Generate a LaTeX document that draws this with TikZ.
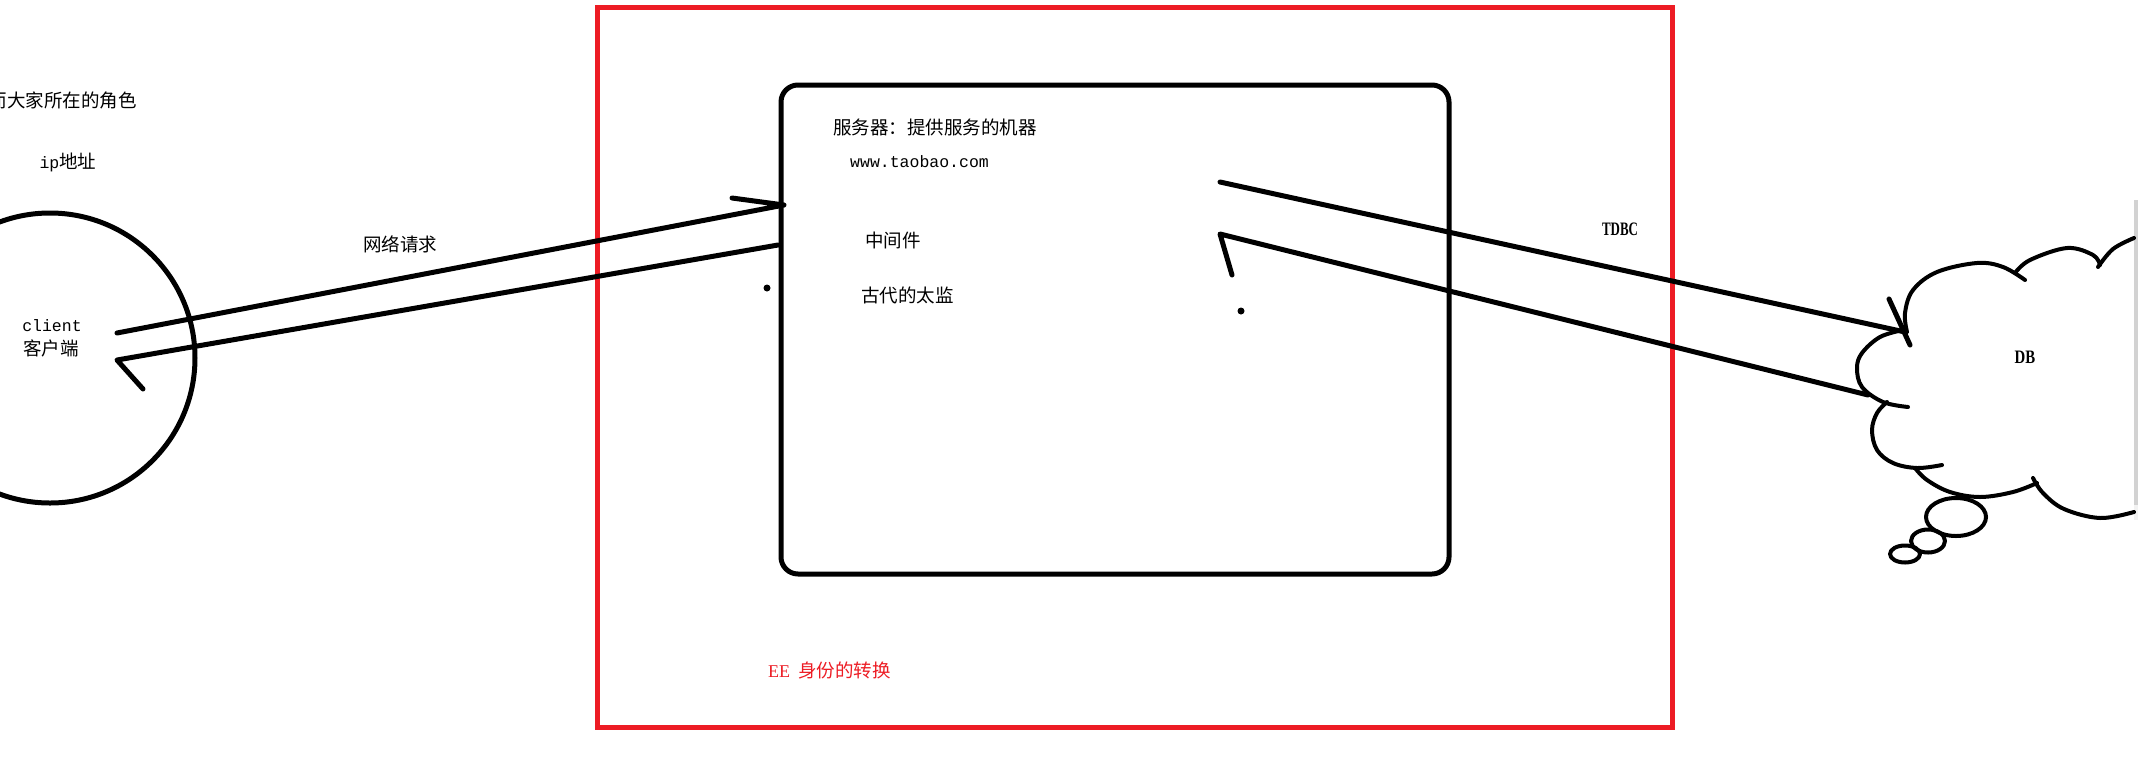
\documentclass[tikz,border=0pt]{standalone}
\usepackage{fontspec}
\setmainfont{Liberation Serif}
\newfontfamily\cjk{Noto Sans CJK SC}
\newfontfamily\mono{Liberation Mono}
\definecolor{pred}{HTML}{ED1C24}
\begin{document}
\begin{tikzpicture}[x=1pt,y=-1pt,line cap=round,line join=round,
  heavy/.style={line width=5pt,draw=black},
  cloudline/.style={line width=4pt,draw=black},
  cjktxt/.style={font=\cjk\fontsize{18.5}{20}\selectfont,inner sep=0pt},
  monotxt/.style={font=\mono\fontsize{16.5}{18}\selectfont,inner sep=0pt},
  sertxt/.style={font=\bfseries\fontsize{19}{21}\selectfont,inner sep=0pt}]
\useasboundingbox (0,0) rectangle (2138,769);
\clip (0,0) rectangle (2138,769);
\fill[white] (0,0) rectangle (2138,769);

% right edge strip
\fill[gray!35] (2134,200) rectangle (2138,505);
\fill[gray!10] (2134,505) rectangle (2138,520);

% red frame
\node[draw=pred,line width=5pt,minimum width=1075pt,minimum height=720pt,inner sep=0pt,line join=miter] (ee) at (1134.5,367) {};
\node[cjktxt,text=pred,anchor=west] (eetext) at (768,670) {{\rmfamily\fontsize{18}{20}\selectfont EE}\hspace{8pt}身份的转换};

% server box
\node[draw,line width=5pt,rounded corners=17pt,minimum width=668pt,minimum height=489pt,inner sep=0pt] (server) at (1115,329.5) {};
\node[cjktxt,anchor=west] (t1) at (833,127) {服务器：提供服务的机器};
\node[monotxt,anchor=west] (t2) at (850,162) {www.taobao.com};
\node[cjktxt,anchor=west] (t3) at (865,240) {中间件};
\node[cjktxt,anchor=west] (t4) at (861,295) {古代的太监};

% client
\node[draw,line width=5pt,circle,minimum size=290pt,inner sep=0pt] (client) at (50,358) {};
\node[monotxt] (c1) at (52,326) {client};
\node[cjktxt] (c2) at (51,348) {客户端};
\node[cjktxt,anchor=east] (role) at (137,100) {而大家所在的角色};
\node[cjktxt] (ip) at (68,162) {{\mono\fontsize{16.5}{18}\selectfont ip}地址};
\node[cjktxt] (net) at (400,244) {网络请求};

% left connectors
\coordinate (a1s) at (117,333);
\coordinate (a1e) at (784,205);
\coordinate (a1h) at (732,198);
\coordinate (a2s) at (778,245);
\coordinate (a2e) at (117,360);
\coordinate (a2h) at (143,389);
\draw[heavy] (a1s) -- (a1e) -- (a1h);
\draw[heavy] (a2s) -- (a2e) -- (a2h);
\fill (767,288) circle (3.5pt);

% right connectors
\coordinate (b1s) at (1220,182);
\coordinate (b1e) at (1905,332);
\coordinate (b1h) at (1889,299);
\coordinate (b1h2) at (1910,345);
\coordinate (b2s) at (1868,395);
\coordinate (b2e) at (1220,234);
\coordinate (b2h) at (1232,275);
\draw[heavy] (b1s) -- (b1e);
\draw[heavy] (b1h) -- (b1h2);
\draw[heavy] (b2s) -- (b2e) -- (b2h);
\fill (1241,311) circle (3.5pt);
\node[sertxt] (jdbc) at (1620,229) {\scalebox{0.68}[1]{TDBC}};

% cloud
\draw[cloudline] plot[smooth,tension=0.6] coordinates {(1903,330) (1880,337) (1862,353) (1857,368) (1862,387) (1883,402) (1908,407)};
\draw[cloudline] plot[smooth,tension=0.6] coordinates {(1887,402) (1877,413) (1872,430) (1877,450) (1893,463) (1917,468) (1942,465)};
\draw[cloudline] plot[smooth,tension=0.6] coordinates {(1915,468) (1927,480) (1950,492) (1980,497) (2013,492) (2037,483)};
\draw[cloudline] plot[smooth,tension=0.6] coordinates {(2033,478) (2043,493) (2064,509) (2100,518) (2134,512)};
\draw[cloudline] plot[smooth,tension=0.6] coordinates {(1907,332) (1905,313) (1913,290) (1937,272) (1977,263) (2003,267) (2025,280)};
\draw[cloudline] plot[smooth,tension=0.6] coordinates {(2015,273) (2030,260) (2067,248) (2093,255) (2100,265)};
\draw[cloudline] plot[smooth,tension=0.6] coordinates {(2098,267) (2113,249) (2134,238)};
\draw[cloudline] (1956,517) ellipse [x radius=30, y radius=19];
\draw[cloudline] (1928,541) ellipse [x radius=17, y radius=11.5];
\draw[cloudline] (1905,554) ellipse [x radius=15, y radius=8.5];
\node[sertxt] (db) at (2025,357) {\scalebox{0.78}[1]{DB}};
\end{tikzpicture}
\end{document}
